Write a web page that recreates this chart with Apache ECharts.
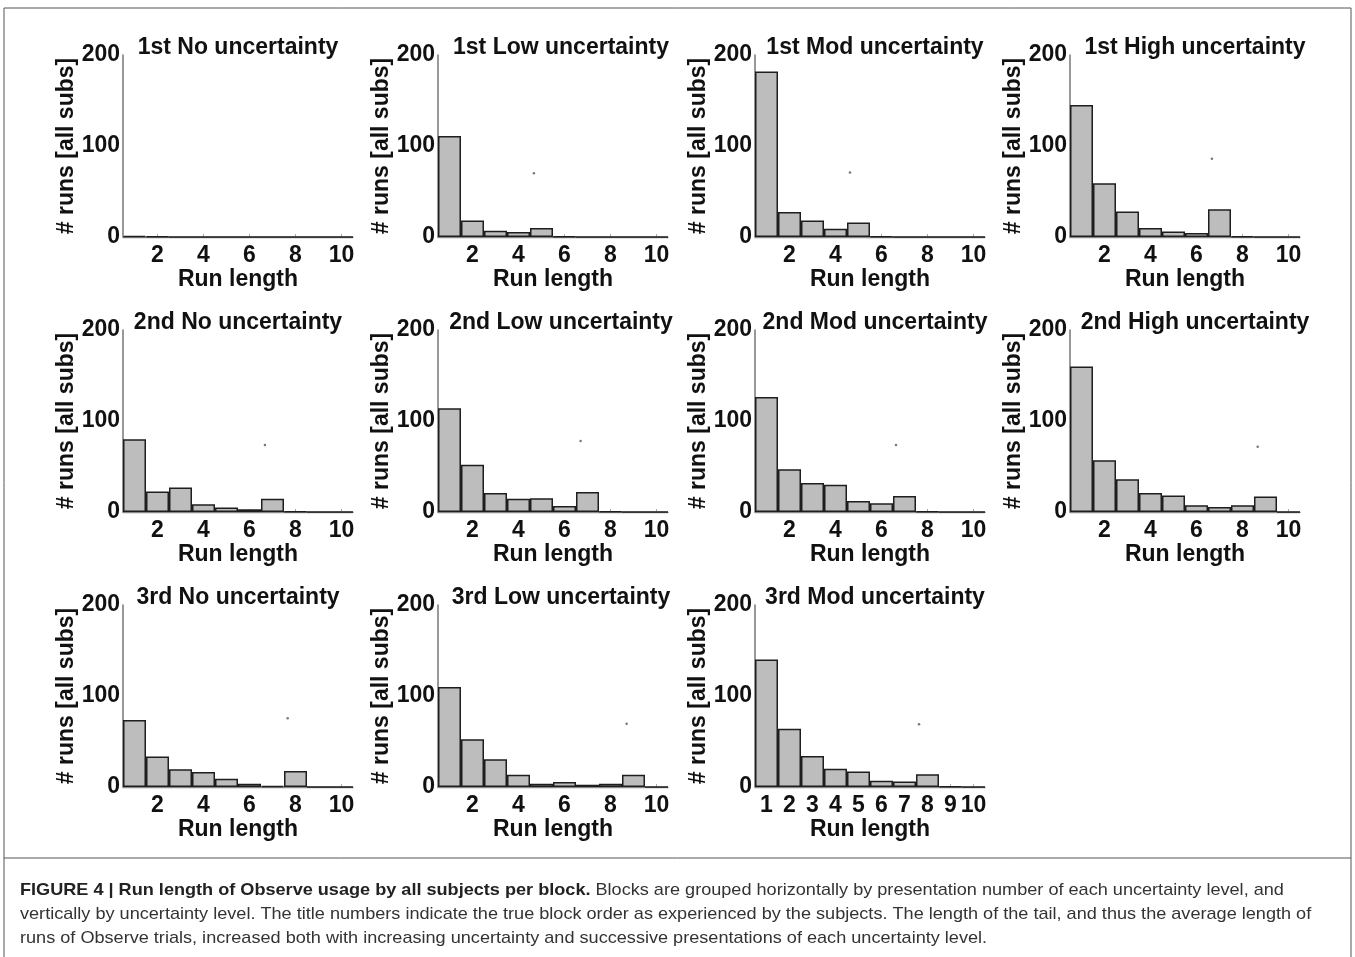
<!DOCTYPE html>
<html>
<head>
<meta charset="utf-8">
<script src="https://cdn.jsdelivr.net/npm/echarts@6/dist/echarts.min.js"></script>
<style>
html,body{margin:0;padding:0;background:#fff;}
#chart{width:1355px;height:957px;}
</style>
</head>
<body>
<div id="chart"></div>
<script>
// ---- data ----
const runLength = ['1','2','3','4','5','6','7','8','9','10'];
const titles = [
  '1st No uncertainty','1st Low uncertainty','1st Mod uncertainty','1st High uncertainty',
  '2nd No uncertainty','2nd Low uncertainty','2nd Mod uncertainty','2nd High uncertainty',
  '3rd No uncertainty','3rd Low uncertainty','3rd Mod uncertainty'
];
const no1   = [1, 0.5, 0, 0, 0, 0, 0, 0, 0, 0];
const low1  = [111, 18, 7, 5.5, 10, 0.5, 0, 0, 0, 0];
const mod1  = [182, 27.5, 18, 9, 16, 0.5, 0, 0, 0, 0];
const high1 = [145, 59, 28, 10, 6, 4.5, 30.5, 0.7, 0, 0];
const no2   = [80, 22.5, 27, 8.5, 5, 3, 14.5, 0.5, 0, 0];
const low2  = [114, 52, 21, 14.5, 15, 6.5, 22, 0.5, 0, 0];
const mod2  = [126.5, 47, 32, 30, 12, 9.5, 17.5, 0.5, 0, 0];
const high2 = [160, 57, 36, 21, 18, 7.5, 5.5, 7.5, 17, 0];
const no3   = [73.5, 33.5, 19.5, 16.5, 9, 3.5, 1, 17.5, 0, 0];
const low3  = [110, 52.5, 30.5, 13.5, 3.5, 5.5, 2.5, 3.5, 13.5, 0];
const mod3  = [140, 64, 34, 20, 17, 7, 6, 14, 0.5, 0];
const counts = [no1, low1, mod1, high1, no2, low2, mod2, high2, no3, low3, mod3];
// stray marker dots seen in each panel (run length, # runs)
const dotX = [null, 4.67, 4.63, 6.67, 6.67, 6.7, 6.63, 8.66, 7.66, 8.7, 7.63];
const dotY = [null, 70, 71, 86, 73.6, 78, 73.6, 71.8, 75.5, 69.6, 69];
const yTicks = [0, 100, 200];
const captionBold = 'FIGURE 4 | Run length of Observe usage by all subjects per block.';
const captionLines = [
  ' Blocks are grouped horizontally by presentation number of each uncertainty level, and',
  'vertically by uncertainty level. The title numbers indicate the true block order as experienced by the subjects. The length of the tail, and thus the average length of',
  'runs of Observe trials, increased both with increasing uncertainty and successive presentations of each uncertainty level.'
];

// ---- layout ----
const FONT = '"Liberation Sans", Arial, Helvetica, sans-serif';
const FS = 23;
const colLeft = [123, 438, 755, 1070];
const rowTop = [55, 330, 605];
const gw = 230, gh = 182;
const titleOffset = [0, 8, 5, 10];

const chart = echarts.init(document.getElementById('chart'));
const grid = [], xAxis = [], yAxis = [], series = [], graphic = [];

counts.forEach((vals, i) => {
  const r = Math.floor(i / 4), c = i % 4;
  grid.push({left: colLeft[c], top: rowTop[r], width: gw, height: gh, containLabel: false});
  const showAll = (i === 10);
  const labFn = showAll ? 0 : function (idx) { return idx % 2 === 1; };
  xAxis.push({
    type: 'category', gridIndex: i, data: runLength,
    name: 'Run length', nameLocation: 'middle', nameGap: 24,
    nameTextStyle: {fontFamily: FONT, fontWeight: 'bold', fontSize: FS, color: '#111'},
    axisLine: {show: true, lineStyle: {color: '#8a8a8a', width: 1.3}},
    axisTick: {show: true, inside: true, length: 3, alignWithLabel: true, interval: labFn, lineStyle: {color: '#aaa'}},
    axisLabel: {interval: labFn, margin: 7, fontFamily: FONT, fontWeight: 'bold', fontSize: FS, color: '#111'},
    splitLine: {show: false}
  });
  xAxis.push({
    type: 'value', gridIndex: i, min: 0.5, max: 10.5, show: false
  });
  yAxis.push({
    type: 'value', gridIndex: i, min: yTicks[0], max: yTicks[2], interval: 100,
    name: '# runs [all subs]', nameLocation: 'middle', nameGap: 44, nameRotate: 90,
    nameTextStyle: {fontFamily: FONT, fontWeight: 'bold', fontSize: FS, color: '#111'},
    axisLine: {show: true, lineStyle: {color: '#777', width: 1.5}},
    axisTick: {show: false},
    axisLabel: {margin: 3, fontFamily: FONT, fontWeight: 'bold', fontSize: FS, color: '#111'},
    splitLine: {show: false}
  });
  series.push({
    type: 'bar', xAxisIndex: 2 * i, yAxisIndex: i, data: vals,
    barCategoryGap: '0%', barGap: '0%',
    itemStyle: {color: '#bdbdbd', borderColor: '#1e1e1e', borderWidth: 1.5},
    emphasis: {disabled: true}, silent: true
  });
  if (dotX[i] !== null) {
    series.push({
      type: 'scatter', xAxisIndex: 2 * i + 1, yAxisIndex: i,
      data: [[dotX[i], dotY[i]]], symbolSize: 2.5,
      itemStyle: {color: '#555'}, silent: true
    });
  }
  graphic.push({
    type: 'text', x: colLeft[c] + gw / 2 + titleOffset[c], y: rowTop[r] - 7,
    style: {text: titles[i], fontFamily: FONT, fontWeight: 'bold', fontSize: FS,
            fill: '#111', align: 'center', verticalAlign: 'middle'}
  });
});

// frame and caption
graphic.push({type: 'line', shape: {x1: 4, y1: 8, x2: 1351, y2: 8}, style: {stroke: '#555', lineWidth: 1}});
graphic.push({type: 'line', shape: {x1: 4, y1: 8, x2: 4, y2: 957}, style: {stroke: '#555', lineWidth: 1}});
graphic.push({type: 'line', shape: {x1: 1351, y1: 8, x2: 1351, y2: 957}, style: {stroke: '#555', lineWidth: 1}});
graphic.push({type: 'line', shape: {x1: 4, y1: 858, x2: 1351, y2: 858}, style: {stroke: '#555', lineWidth: 1}});
const capFS = 17, capScale = 1.065;
graphic.push({
  type: 'text', x: 20, y: 890, scaleX: capScale,
  style: {
    text: '{b|' + captionBold + '}{n|' + captionLines[0] + '}',
    verticalAlign: 'middle',
    rich: {
      b: {fontFamily: FONT, fontWeight: 'bold', fontSize: capFS, fill: '#222'},
      n: {fontFamily: FONT, fontSize: capFS, fill: '#333'}
    }
  }
});
[1, 2].forEach((k, j) => {
  graphic.push({
    type: 'text', x: 20, y: 914 + 24 * j, scaleX: capScale,
    style: {text: captionLines[k], fontFamily: FONT, fontSize: capFS, fill: '#333', verticalAlign: 'middle'}
  });
});

chart.setOption({
  animation: false,
  backgroundColor: '#fff',
  grid, xAxis, yAxis, series, graphic
});
</script>
</body>
</html>
